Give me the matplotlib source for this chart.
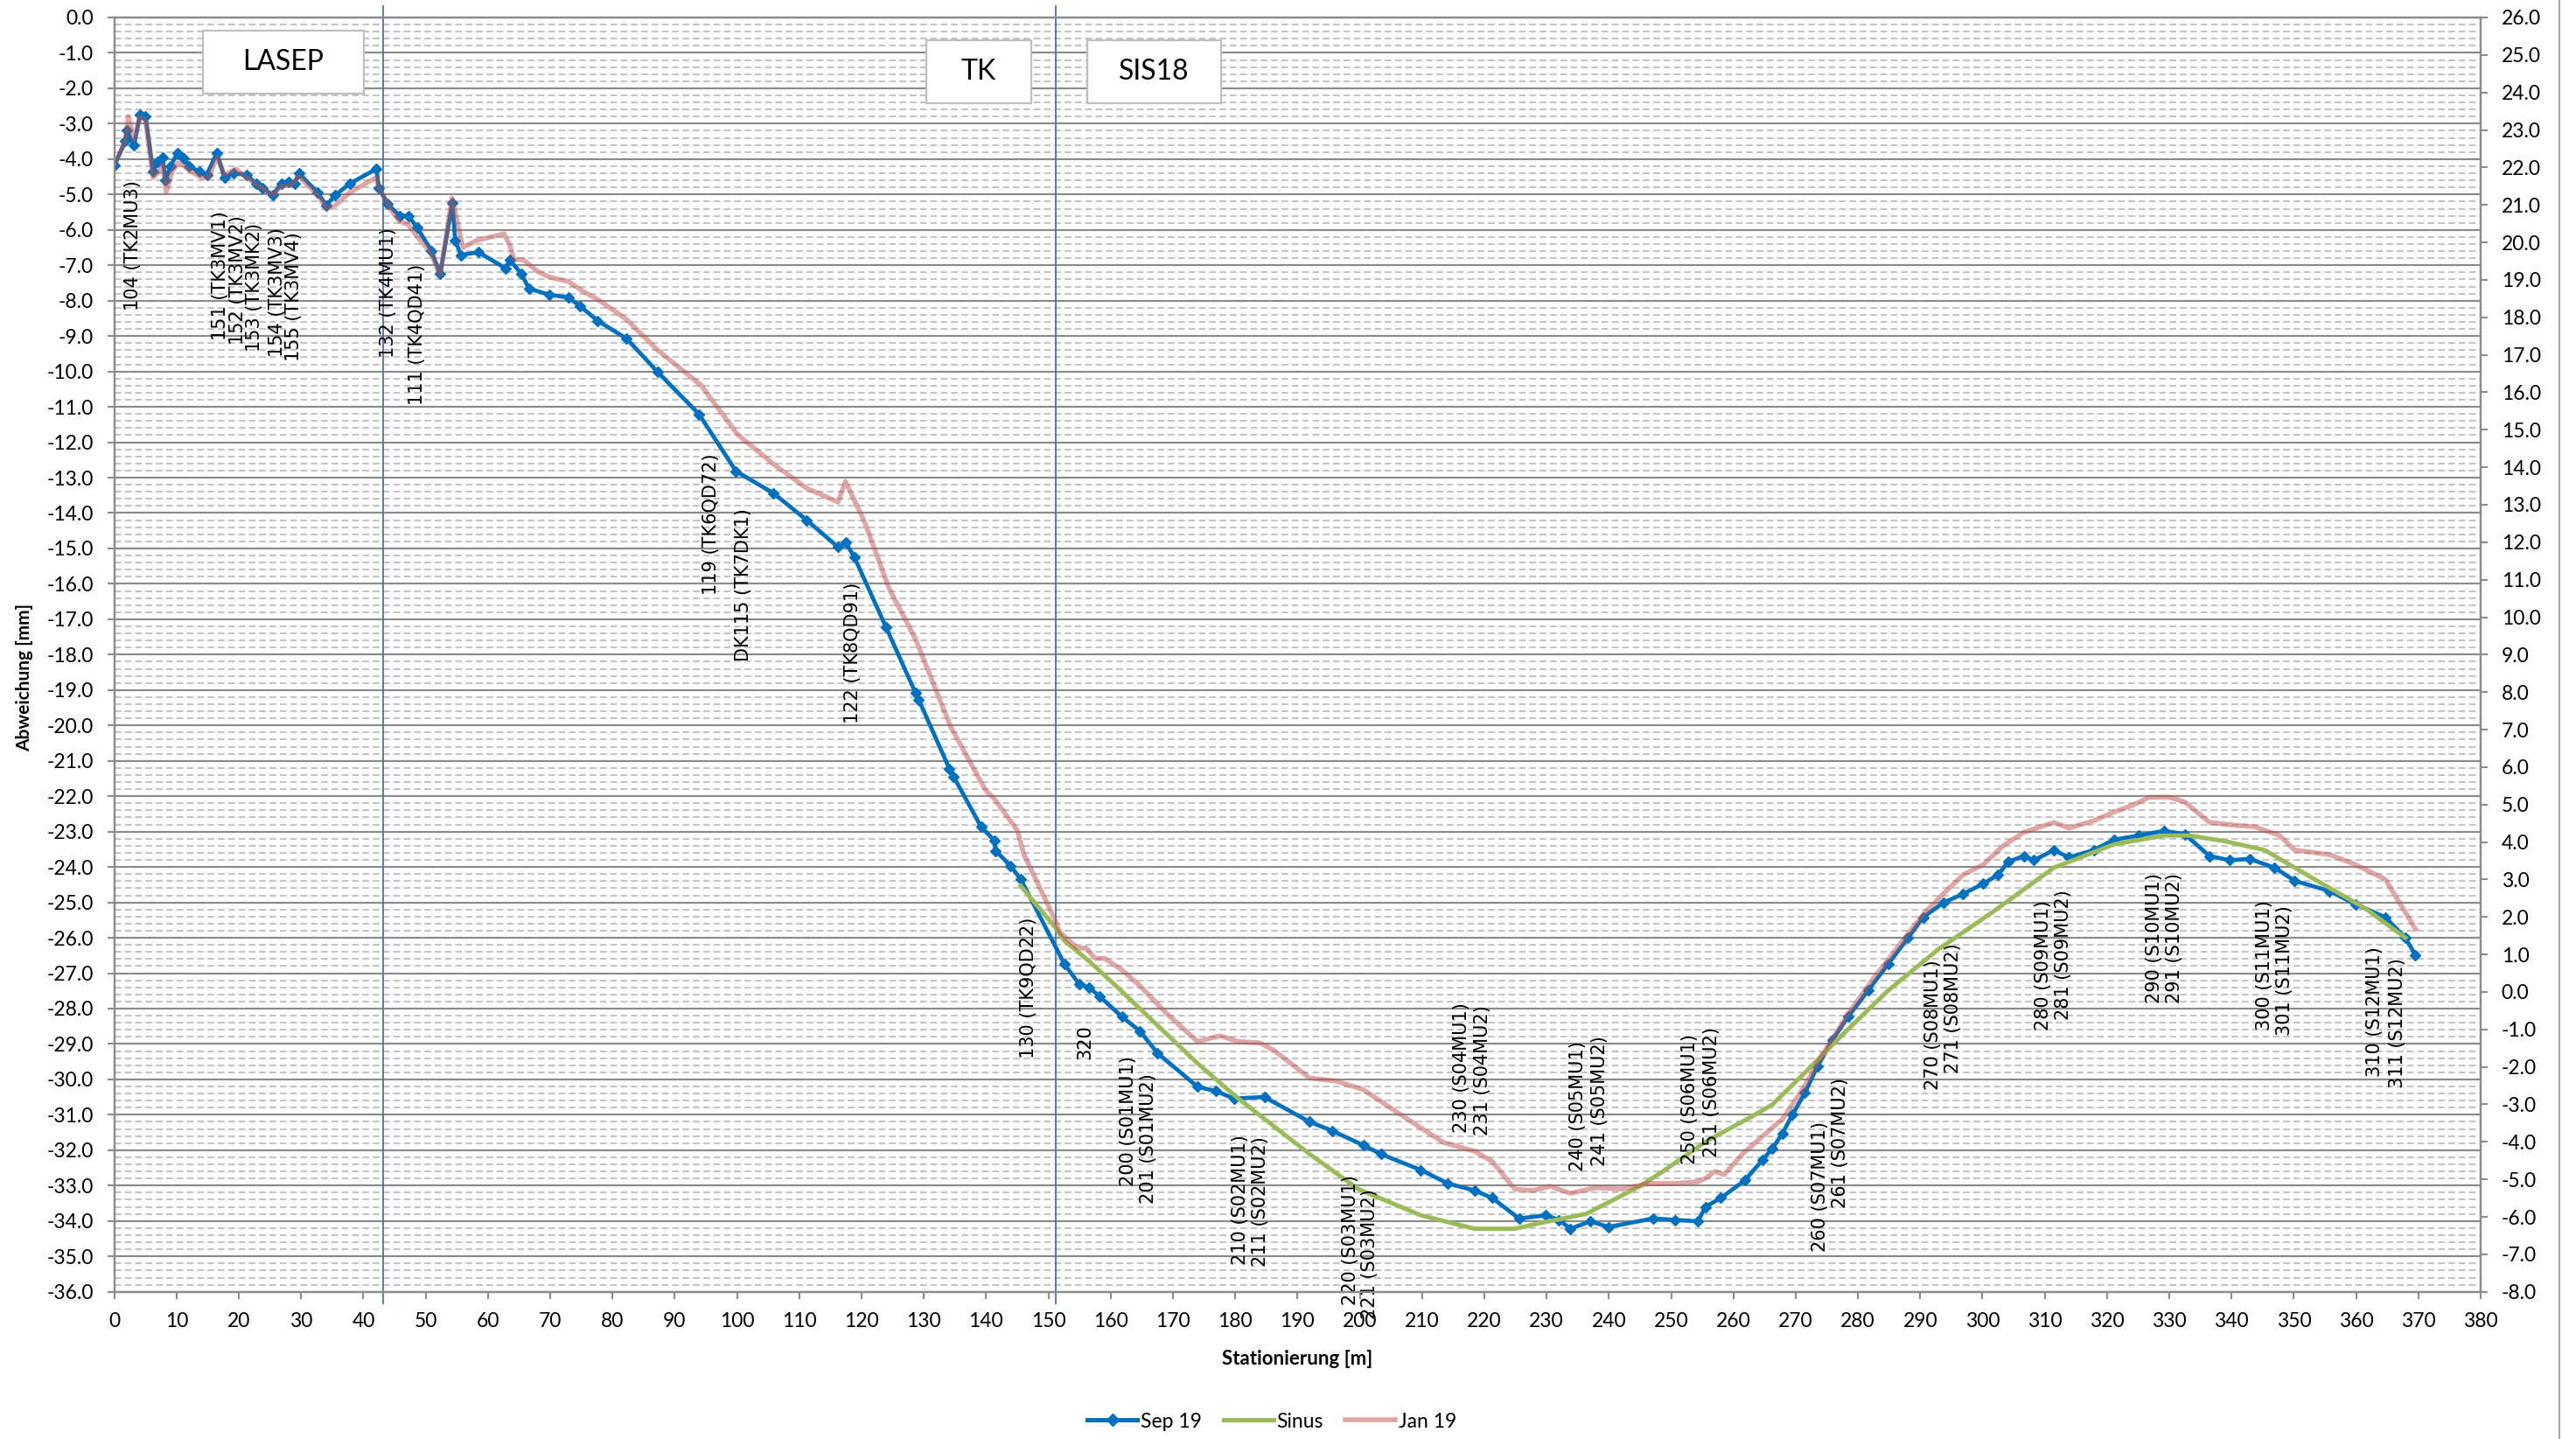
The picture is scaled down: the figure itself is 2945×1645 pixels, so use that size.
import matplotlib
matplotlib.use('Agg')
import matplotlib.pyplot as plt
from matplotlib.patches import Rectangle
from matplotlib.lines import Line2D
import matplotlib.ticker as mt

plt.rcParams['font.family'] = ['Lato', 'DejaVu Sans']
plt.rcParams['axes.unicode_minus'] = False
plt.rcParams['lines.scale_dashes'] = False

# ---------------- data ----------------
sep_x = [0.0, 1.77, 2.0, 3.17, 4.12, 5.02, 6.23, 6.93, 7.73, 8.24, 9.04, 10.14, 11.15, 12.05,
         13.66, 14.87, 16.47, 17.68, 19.08, 21.19, 22.8, 23.8, 25.41, 26.82, 28.02, 28.93,
         29.63, 32.64, 34.05, 35.45, 37.87, 42.08, 42.49, 43.89, 45.8, 47.2, 48.61, 50.92,
         52.33, 54.3, 54.74, 55.64, 58.46, 62.88, 63.48, 65.39, 66.59, 69.8, 72.92, 74.83,
         77.64, 82.26, 87.28, 93.91, 99.84, 105.86, 111.19, 116.21, 117.41, 118.82, 123.94,
         128.66, 129.17, 134.09, 134.79, 139.21, 141.32, 141.52, 143.93, 145.54, 152.57,
         154.98, 156.49, 158.19, 161.81, 164.72, 167.53, 173.96, 176.87, 179.79, 184.71,
         191.94, 195.56, 200.58, 203.39, 209.82, 214.14, 218.46, 221.27, 225.59, 229.91,
         232.02, 233.82, 237.04, 239.95, 247.08, 250.7, 254.31, 255.52, 258.0, 261.85,
         264.66, 266.27, 267.87, 269.48, 271.49, 273.5, 275.91, 278.42, 281.63, 284.85,
         288.06, 290.47, 293.69, 296.9, 300.12, 302.53, 304.13, 306.64, 308.25, 311.46,
         313.88, 317.89, 321.11, 325.12, 329.14, 332.46, 336.47, 339.69, 342.9, 346.92,
         350.13, 355.76, 359.88, 364.7, 367.91, 369.52]
sep_y = [-4.18, -3.49, -3.2, -3.62, -2.75, -2.8, -4.36, -4.07, -3.95, -4.6, -4.2, -3.82, -3.99, -4.2,
         -4.36, -4.44, -3.82, -4.52, -4.40, -4.44, -4.69, -4.81, -5.02, -4.69, -4.65, -4.69,
         -4.40, -4.94, -5.31, -5.02, -4.69, -4.28, -4.81, -5.27, -5.6, -5.6, -5.93, -6.59,
         -7.25, -5.23, -6.30, -6.71, -6.63, -7.09, -6.84, -7.25, -7.66, -7.83, -7.91, -8.16,
         -8.57, -9.07, -10.02, -11.21, -12.82, -13.44, -14.2, -14.96, -14.82, -15.24, -17.23,
         -19.08, -19.27, -21.22, -21.45, -22.87, -23.25, -23.54, -23.97, -24.34, -26.74,
         -27.32, -27.40, -27.65, -28.23, -28.64, -29.26, -30.21, -30.33, -30.54, -30.50,
         -31.20, -31.45, -31.86, -32.11, -32.56, -32.94, -33.14, -33.35, -33.93, -33.84,
         -33.97, -34.22, -34.01, -34.17, -33.93, -33.97, -34.01, -33.6, -33.35, -32.85,
         -32.28, -31.95, -31.53, -31.0, -30.38, -29.63, -28.89, -28.23, -27.49, -26.74,
         -26.0, -25.42, -25.01, -24.76, -24.47, -24.22, -23.85, -23.69, -23.81, -23.52,
         -23.73, -23.52, -23.23, -23.11, -22.98, -23.07, -23.69, -23.81, -23.77, -24.02,
         -24.39, -24.68, -25.05, -25.42, -26.0, -26.49]

sin_x = [145.54, 151.16, 152.57, 156.79, 161.1, 173.96, 180.49, 191.94, 199.78, 209.82,
         218.46, 224.89, 229.2, 236.33, 244.97, 248.59, 255.62, 263.05, 266.27, 271.09,
         277.62, 284.85, 292.88, 301.72, 311.46, 321.11, 329.14, 333.26, 338.88, 345.31,
         353.35, 361.48, 367.91]
sin_y = [-24.53, -25.72, -26.08, -26.7, -27.40, -29.55, -30.54, -32.11, -33.10, -33.84,
         -34.22, -34.22, -34.05, -33.80, -33.02, -32.61, -31.75, -31.04, -30.71, -29.88,
         -28.72, -27.49, -26.33, -25.26, -24.02, -23.36, -23.11, -23.11, -23.27, -23.52,
         -24.35, -25.17, -26.0]

jan_x = [0.0, 1.77, 2.25, 3.17, 4.12, 5.0, 6.22, 7.16, 7.77, 8.33, 9.27, 10.2, 11.14, 12.08,
         13.95, 15.1, 16.5, 17.7, 19.57, 21.2, 23.3, 25.41, 26.82, 28.46, 29.63, 32.64,
         34.08, 35.48, 37.83, 42.04, 42.49, 44.39, 45.79, 47.2, 48.6, 50.9, 52.3, 54.22,
         56.0, 58.15, 62.57, 63.48, 64.18, 65.69, 67.9, 69.8, 72.92, 75.43, 77.94, 82.26,
         87.28, 94.21, 100.14, 105.86, 111.19, 116.21, 117.41, 118.82, 120.53, 124.44,
         128.66, 134.29, 139.91, 141.32, 145.03, 146.04, 151.16, 151.77, 154.68, 156.08,
         157.49, 158.99, 161.81, 164.72, 169.04, 173.96, 177.58, 180.49, 184.01, 186.22,
         191.94, 196.26, 200.58, 204.8, 209.82, 213.43, 218.46, 221.27, 224.89, 227.8,
         230.61, 233.82, 237.84, 242.06, 246.38, 250.7, 254.31, 255.5, 257.0, 258.5,
         261.45, 264.66, 267.87, 271.09, 274.3, 278.42, 282.44, 286.45, 290.47, 293.69,
         296.9, 300.12, 303.33, 306.64, 311.46, 313.88, 317.89, 321.11, 324.32, 326.73,
         330.05, 332.46, 336.47, 340.49, 343.71, 347.72, 350.13, 355.76, 359.88, 364.7,
         369.52]
jan_y = [-4.18, -3.49, -2.79, -3.45, -2.8, -2.9, -4.52, -4.36, -4.15, -4.94, -4.36, -4.11, -4.19, -4.32,
         -4.52, -4.52, -3.95, -4.44, -4.28, -4.52, -4.77, -5.02, -4.77, -4.73, -4.48, -5.02,
         -5.39, -5.31, -4.94, -4.52, -4.81, -5.43, -5.76, -5.85, -6.18, -6.67, -7.29, -5.1,
         -6.5, -6.3, -6.11, -6.42, -6.84, -6.84, -7.17, -7.33, -7.46, -7.75, -8.0, -8.53,
         -9.4, -10.39, -11.79, -12.62, -13.3, -13.69, -13.11, -13.63, -14.27, -16.14,
         -17.56, -20.03, -21.83, -22.07, -22.97, -23.63, -25.53, -25.83, -26.29, -26.29,
         -26.58, -26.58, -26.91, -27.36, -28.15, -28.93, -28.77, -28.93, -28.97, -29.18,
         -29.96, -30.05, -30.29, -30.79, -31.37, -31.78, -32.03, -32.32, -33.10, -33.14,
         -33.02, -33.22, -33.06, -33.10, -32.94, -32.94, -32.89, -32.8, -32.6, -32.69,
         -32.11, -31.61, -31.12, -30.29, -29.30, -28.15, -27.16, -26.25, -25.34, -24.76,
         -24.22, -23.93, -23.40, -23.02, -22.74, -22.90, -22.69, -22.45, -22.24, -22.03,
         -22.03, -22.16, -22.74, -22.82, -22.86, -23.11, -23.52, -23.65, -23.93, -24.35,
         -25.75]

label_text = ["104 (TK2MU3)", "151 (TK3MV1)", "152 (TK3MV2)", "153 (TK3MK2)", "154 (TK3MV3)",
              "155 (TK3MV4)", "132 (TK4MU1)", "111 (TK4QD41)", "119 (TK6QD72)", "DK115 (TK7DK1)",
              "122 (TK8QD91)", "130 (TK9QD22)", "320", "200 (S01MU1)", "201 (S01MU2)",
              "210 (S02MU1)", "211 (S02MU2)", "220 (S03MU1)", "221 (S03MU2)", "230 (S04MU1)",
              "231 (S04MU2)", "240 (S05MU1)", "241 (S05MU2)", "250 (S06MU1)", "251 (S06MU2)",
              "260 (S07MU1)", "261 (S07MU2)", "270 (S08MU1)", "271 (S08MU2)", "280 (S09MU1)",
              "281 (S09MU2)", "290 (S10MU1)", "291 (S10MU2)", "300 (S11MU1)", "301 (S11MU2)",
              "310 (S12MU1)", "311 (S12MU2)"]
label_x = [2.95, 17.0, 19.8, 22.5, 26.1, 28.9, 44.0, 48.7, 95.8, 101.1, 118.6, 146.8, 155.9,
           162.9, 166.1, 180.8, 184.0, 198.5, 201.6, 216.3, 219.7, 235.1, 238.5, 253.0, 256.6,
           273.9, 277.2, 292.1, 295.3, 309.8, 313.0, 327.6, 330.8, 345.3, 348.5, 363.0, 366.7]
label_top = [-4.6, -5.48, -5.6, -5.8, -5.93, -6.05, -5.93, -6.96, -12.32, -13.87, -15.95, -25.42,
             -28.46, -29.34, -29.84, -31.57, -31.61, -32.69, -33.1, -27.82, -27.9, -28.93, -28.76,
             -28.72, -28.52, -31.2, -29.96, -26.62, -26.16, -24.93, -24.64, -24.18, -24.18,
             -24.93, -25.09, -26.25, -26.58]

section_names = ["LASEP", "TK", "SIS18"]
section_x0 = [14.16, 130.4, 156.2]
section_x1 = [40.08, 147.2, 177.8]
section_ytop = [-0.37, -0.64, -0.64]
section_ybot = [-2.16, -2.43, -2.43]
boundary_x = [43.1, 151.2]

# ---------------- figure ----------------
W, H = 2945, 1645
fig = plt.figure(figsize=(W / 100, H / 100), dpi=100)
L, R, T, B = 130.7, 2836, 20, 1476.7
ax = fig.add_axes([L / W, 1 - B / H, (R - L) / W, (B - T) / H])
ax.set_xlim(0, 380)
ax.set_ylim(-36, 0)
ax.xaxis.set_major_locator(mt.MultipleLocator(10))
ax.yaxis.set_major_locator(mt.MultipleLocator(1))
ax.yaxis.set_minor_locator(mt.MultipleLocator(0.2))
ax.yaxis.set_major_formatter(mt.FormatStrFormatter('%.1f'))
ax.set_axisbelow(True)
ax.grid(which='major', axis='y', color='#8c8c8c', lw=1.6)
ax.grid(which='minor', axis='y', color='#c4c4c4', lw=1.5, linestyle=(0, (5.5, 3.0)))
ax.tick_params(axis='y', which='minor', length=0)
ax.tick_params(which='major', length=6, width=1.5, color='#8c8c8c', labelsize=16.5, pad=11)
for s in ax.spines.values():
    s.set_color('#8c8c8c')
    s.set_linewidth(1.6)

ax2 = ax.twinx()
ax2.set_ylim(-8, 26)
ax2.yaxis.set_major_locator(mt.MultipleLocator(1))
ax2.yaxis.set_major_formatter(mt.FormatStrFormatter('%.1f'))
ax2.tick_params(which='major', length=6, width=1.5, color='#8c8c8c', labelsize=16.5, pad=11)
for s in ax2.spines.values():
    s.set_color('#8c8c8c')
    s.set_linewidth(1.6)

# section boxes
for name, x0, x1, yt, yb in zip(section_names, section_x0, section_x1, section_ytop, section_ybot):
    ax.add_patch(Rectangle((x0, yb), x1 - x0, yt - yb, facecolor='white', edgecolor='#bfbfbf',
                           lw=1.6, zorder=2))
    ax.text((x0 + x1) / 2, (yt + yb) / 2, name, ha='center', va='center', fontsize=23, zorder=3)

# boundary lines
for bx in boundary_x:
    ax.plot([bx, bx], [1.009, -0.009], transform=ax.get_xaxis_transform(), color='#4472C4',
            lw=1.3, clip_on=False, zorder=2.5)

# series
ax.plot(sep_x, sep_y, color='#0070C0', lw=3.4, marker='D', ms=6.5, mec='#0070C0',
        mfc='#0070C0', zorder=4, solid_joinstyle='round')
ax.plot(sin_x, sin_y, color='#9BBB59', lw=3.6, zorder=5, solid_joinstyle='round')
ax.plot(jan_x, jan_y, color='#C0504D', alpha=0.5, lw=4.0, zorder=6, solid_joinstyle='round')

# point labels
for t, lx, ly in zip(label_text, label_x, label_top):
    ax.text(lx, ly, t, rotation=90, ha='center', va='top', fontsize=15,
            family='DejaVu Sans', clip_on=False, zorder=7)

# axis titles
fig.text(28 / W, 1 - 774 / H, 'Abweichung [mm]', rotation=90, ha='center', va='center',
         fontsize=15, fontweight='bold')
fig.text(1483 / W, 1 - 1553 / H, 'Stationierung [m]', ha='center', va='center',
         fontsize=16, fontweight='bold')

# legend
handles = [Line2D([], [], color='#0070C0', lw=3.6, marker='D', ms=7),
           Line2D([], [], color='#9BBB59', lw=3.6),
           Line2D([], [], color='#C0504D', alpha=0.5, lw=4.0)]
fig.legend(handles, ['Sep 19', 'Sinus', 'Jan 19'], loc='center',
           bbox_to_anchor=(1454 / W, 1 - 1625 / H), ncol=3, frameon=False, fontsize=16.5,
           handlelength=2.5, handletextpad=0.15, columnspacing=1.1, numpoints=1)

# chart area right border
fig.add_artist(Line2D([2926 / W, 2926 / W], [0, 1], transform=fig.transFigure,
                      color='#a6a6a6', lw=1.5))

fig.savefig('out.png', dpi=100)
